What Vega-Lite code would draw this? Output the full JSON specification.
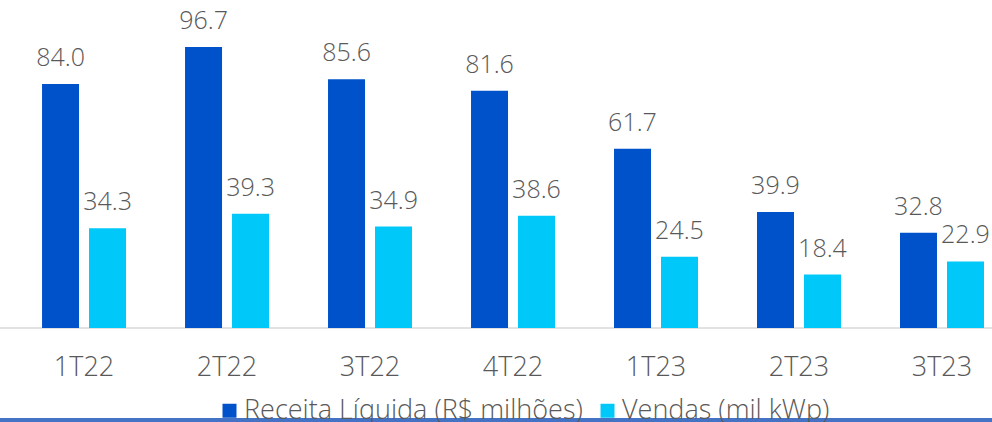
{
  "$schema": "https://vega.github.io/schema/vega-lite/v6.json",
  "width": 992,
  "height": 422,
  "autosize": {"type": "none"},
  "padding": 0,
  "background": "white",
  "config": {"view": {"stroke": null}, "font": "Open Sans"},
  "datasets": {
    "main": [
      {"q": "1T22", "series": "Receita Líquida (R$ milhões)", "v": 84.0},
      {"q": "1T22", "series": "Vendas (mil kWp)", "v": 34.3},
      {"q": "2T22", "series": "Receita Líquida (R$ milhões)", "v": 96.7},
      {"q": "2T22", "series": "Vendas (mil kWp)", "v": 39.3},
      {"q": "3T22", "series": "Receita Líquida (R$ milhões)", "v": 85.6},
      {"q": "3T22", "series": "Vendas (mil kWp)", "v": 34.9},
      {"q": "4T22", "series": "Receita Líquida (R$ milhões)", "v": 81.6},
      {"q": "4T22", "series": "Vendas (mil kWp)", "v": 38.6},
      {"q": "1T23", "series": "Receita Líquida (R$ milhões)", "v": 61.7},
      {"q": "1T23", "series": "Vendas (mil kWp)", "v": 24.5},
      {"q": "2T23", "series": "Receita Líquida (R$ milhões)", "v": 39.9},
      {"q": "2T23", "series": "Vendas (mil kWp)", "v": 18.4},
      {"q": "3T23", "series": "Receita Líquida (R$ milhões)", "v": 32.8},
      {"q": "3T23", "series": "Vendas (mil kWp)", "v": 22.9}
    ],
    "lines": [
      {"line": "base", "v": 0}
    ],
    "bottom": [
      {"line": "border", "v": -31.66}
    ]
  },
  "layer": [
    {
      "data": {"name": "lines"},
      "mark": {"type": "rule", "color": "#D9D9D9", "strokeWidth": 1.5},
      "encoding": {
        "y": {"field": "v", "type": "quantitative", "scale": {"domain": [-32.35, 112.87], "nice": false, "zero": false}, "axis": null}
      }
    },
    {
      "data": {"name": "main"},
      "mark": {"type": "bar"},
      "encoding": {
        "x": {
          "field": "q", "type": "nominal", "sort": null, "title": null,
          "scale": {"paddingInner": 0.4126, "paddingOuter": 0.175, "align": 0.84},
          "axis": {"orient": "bottom", "offset": -94, "domain": false, "ticks": false, "tickSize": 0, "labelFontSize": 27, "labelColor": "#595959", "labelPadding": 47, "labelBaseline": "alphabetic", "labelAngle": 0, "labelFontWeight": 300}
        },
        "xOffset": {"field": "series", "type": "nominal", "sort": null, "scale": {"paddingInner": 0.2128, "paddingOuter": 0}},
        "y": {"field": "v", "type": "quantitative"},
        "y2": {"datum": 0},
        "color": {
          "field": "series", "type": "nominal", "sort": null,
          "scale": {"domain": ["Receita Líquida (R$ milhões)", "Vendas (mil kWp)"], "range": ["#0052CA", "#00C8F8"]},
          "legend": {"orient": "none", "legendX": 216, "legendY": 397, "padding": 0, "direction": "horizontal", "title": null, "symbolType": "square", "symbolSize": 196, "symbolStrokeWidth": 0, "labelFontSize": 27, "labelColor": "#595959", "labelLimit": 0, "labelOffset": 1, "columnPadding": 11, "labelFontWeight": 300}
        }
      }
    },
    {
      "data": {"name": "main"},
      "mark": {"type": "text", "dy": -18, "baseline": "alphabetic", "fontSize": 25, "color": "#595959", "fontWeight": 300},
      "encoding": {
        "x": {"field": "q", "type": "nominal", "sort": null},
        "xOffset": {"field": "series", "type": "nominal", "sort": null},
        "y": {"field": "v", "type": "quantitative"},
        "text": {"field": "v", "type": "quantitative", "format": ".1f"}
      }
    },
    {
      "data": {"name": "bottom"},
      "mark": {"type": "rule", "color": "#4472C4", "strokeWidth": 4},
      "encoding": {
        "y": {"field": "v", "type": "quantitative"}
      }
    }
  ]
}
